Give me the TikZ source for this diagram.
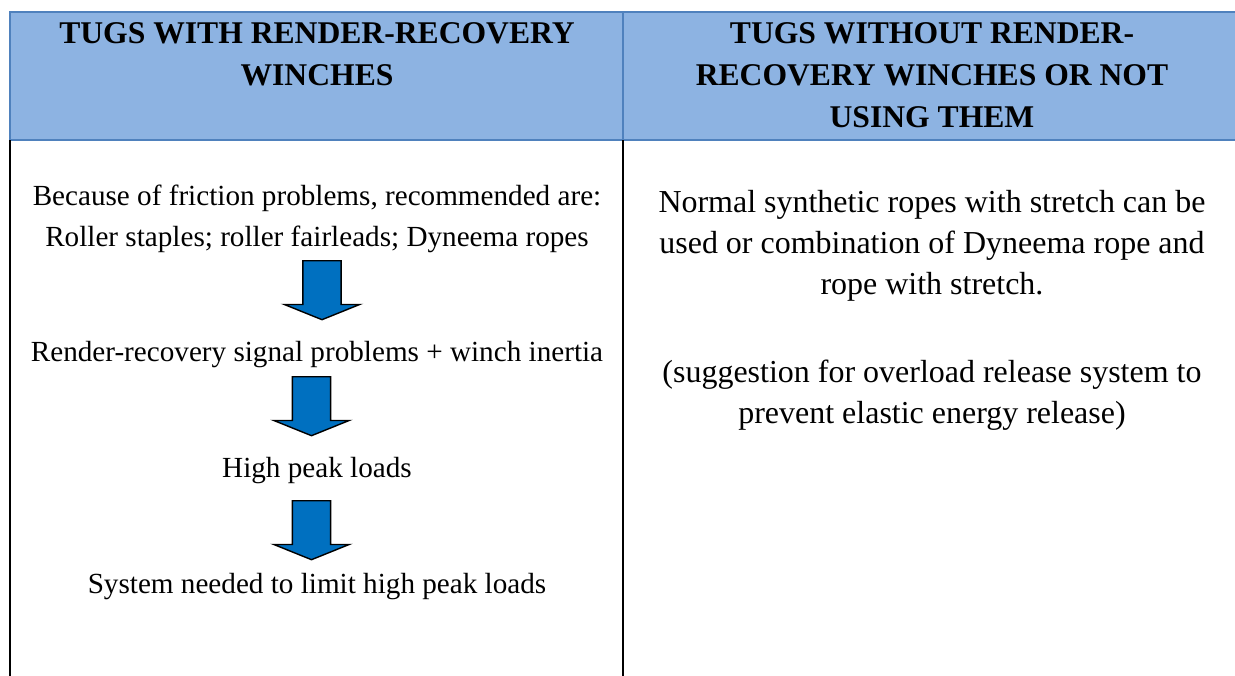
\documentclass[tikz,border=0pt]{standalone}
\usepackage{fontspec}
\setmainfont{Liberation Serif}
\usetikzlibrary{shapes.arrows}
\definecolor{headfill}{HTML}{8DB3E2}
\definecolor{headline}{HTML}{4F81BD}
\definecolor{arrowblue}{HTML}{0070C0}

\begin{document}
\begin{tikzpicture}[x=0.02cm,y=-0.02cm,
  headbox/.style={draw=headline,fill=headfill,line width=1.1pt},
  colline/.style={draw=black,line width=1.1pt},
  headtext/.style={font=\fontsize{18}{23.9}\selectfont\bfseries,align=center,anchor=base,inner sep=0pt},
  bodytext/.style={font=\fontsize{16.6}{23.3}\selectfont,align=center,anchor=base,inner sep=0pt},
  righttext/.style={bodytext,font=\fontsize{18.2}{23.3}\selectfont},
  downarrow/.style={single arrow,shape border rotate=270,draw=black,line width=0.8pt,fill=arrowblue,
    minimum height=1.18cm,minimum width=1.48cm,inner sep=0.37cm,single arrow head extend=0.37cm,
    single arrow tip angle=136,anchor=tail}]
\clip (0,0) rectangle (1235,676);
% header cells
\draw[headbox] (10,12) rectangle (623,140);
\draw[headbox] (623,12) rectangle (1250,140);
\draw[colline] (10,140) -- (10,676);
\draw[colline] (623,140) -- (623,676);
% anchor=base sits on the last line
\node[headtext] (withhead) at (317,85) {TUGS WITH RENDER-RECOVERY\\WINCHES};
\node[headtext] (withouthead) at (932,127) {TUGS WITHOUT RENDER-\\RECOVERY WINCHES OR NOT\\USING THEM};
% left column
\node[bodytext] (friction) at (317,246) {Because of friction problems, recommended are:\\Roller staples; roller fairleads; Dyneema ropes};
\node[downarrow] (arr1) at (322,260) {};
\node[bodytext] (signal) at (317,361) {Render-recovery signal problems + winch inertia};
\node[downarrow] (arr2) at (311.5,376) {};
\node[bodytext] (peak) at (317,477) {High peak loads};
\node[downarrow] (arr3) at (311.5,500) {};
\node[bodytext] (limit) at (317,593) {System needed to limit high peak loads};
% right column
\node[righttext] (ropes) at (932,294) {Normal synthetic ropes with stretch can be\\used or combination of Dyneema rope and\\rope with stretch.};
\node[righttext] (release) at (932,423) {(suggestion for overload release system to\\prevent elastic energy release)};
\end{tikzpicture}
\end{document}
